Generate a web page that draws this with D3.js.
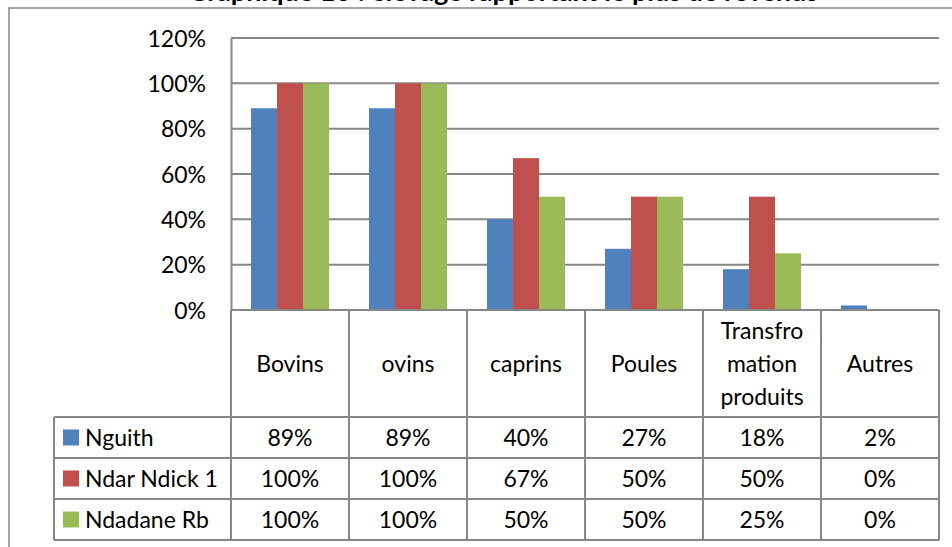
<!DOCTYPE html>
<meta charset="utf-8">
<script src="https://d3js.org/d3.v7.min.js"></script>
<style>
  body { margin: 0; background: #fff; }
  text { font-family: Lato, "Open Sans", sans-serif; fill: #000; }
</style>
<body>
<div id="my_dataviz"></div>
</body>
<script>

  // data
  var categories = ["Bovins", "ovins", "caprins", "Poules", "Transformation produits", "Autres"];
  var categoryLines = [["Bovins"], ["ovins"], ["caprins"], ["Poules"], ["Transfro", "mation", "produits"], ["Autres"]];
  var series = ["Nguith", "Ndar Ndick 1", "Ndadane Rb"];
  var nguith = [0.89, 0.89, 0.40, 0.27, 0.18, 0.02];
  var ndarNdick = [1.00, 1.00, 0.67, 0.50, 0.50, 0.00];
  var ndadane = [1.00, 1.00, 0.50, 0.50, 0.25, 0.00];
  var yTicks = [0, 0.2, 0.4, 0.6, 0.8, 1.0, 1.2];
  var colors = ["#4F81BD", "#C0504D", "#9BBB59"];
  var title = "Graphique 10 : élevage rapportant le plus de revenus";

  var values = [nguith, ndarNdick, ndadane];

  var width = 952, height = 547;
  var plot = {left: 231, right: 939, top: 38, bottom: 310};
  var table = {left: 54, header: 417, rowH: 41};
  var grey = "#878787";
  var fs = "23px";

  const svg = d3.select("#my_dataviz")
    .append("svg")
      .attr("width", width)
      .attr("height", height);

  // outer chart frame (runs past the window on right and bottom)
  svg.append("rect")
    .attr("x", 9).attr("y", 8)
    .attr("width", 1100).attr("height", 700)
    .style("fill", "none")
    .style("stroke", grey)
    .style("stroke-width", 1.5);

  // title, mostly cut off at the top
  svg.append("text")
    .attr("x", 503)
    .attr("y", 1)
    .attr("text-anchor", "middle")
    .style("font-weight", "bold")
    .style("font-size", "27px")
    .text(title);

  const x0 = d3.scaleBand()
    .domain(categories)
    .range([plot.left, plot.right]);

  const x1 = d3.scaleBand()
    .domain(series)
    .range([20, x0.bandwidth() - 20]);

  const y = d3.scaleLinear()
    .domain([0, 1.2])
    .range([plot.bottom, plot.top]);

  // gridlines
  svg.selectAll("gridline")
    .data(yTicks)
    .join("line")
      .attr("x1", plot.left).attr("x2", plot.right)
      .attr("y1", d => y(d)).attr("y2", d => y(d))
      .style("stroke", grey)
      .style("stroke-width", 2);

  // y axis
  const yAxis = svg.append("g")
    .attr("transform", `translate(${plot.left},0)`)
    .call(d3.axisLeft(y).tickValues(yTicks).tickSize(0).tickPadding(25).tickFormat(d3.format(".0%")));
  yAxis.select(".domain").style("stroke", grey).style("stroke-width", 2);
  yAxis.selectAll("text")
    .style("font-family", "Lato, sans-serif")
    .style("font-size", fs)
    .attr("dy", "0.36em");

  // bars
  svg.selectAll("barGroup")
    .data(series)
    .join("g")
      .style("fill", (d, i) => colors[i])
    .selectAll("rect")
    .data((s, i) => values[i].map((v, j) => ({s: s, cat: categories[j], v: v})))
    .join("rect")
      .attr("x", d => x0(d.cat) + x1(d.s))
      .attr("width", x1.bandwidth())
      .attr("y", d => y(d.v))
      .attr("height", d => y(0) - y(d.v));

  // data table
  var rowTop = function(i) { return table.header + i * table.rowH; };
  var tableBottom = rowTop(series.length);

  // horizontal lines
  svg.append("line")
    .attr("x1", plot.left).attr("x2", plot.right)
    .attr("y1", plot.bottom).attr("y2", plot.bottom)
    .style("stroke", grey).style("stroke-width", 2);
  svg.selectAll("rowline")
    .data(d3.range(series.length + 1))
    .join("line")
      .attr("x1", table.left).attr("x2", plot.right)
      .attr("y1", d => rowTop(d)).attr("y2", d => rowTop(d))
      .style("stroke", grey).style("stroke-width", 2);

  // vertical lines
  svg.selectAll("colline")
    .data(categories.map(c => x0(c)).concat([plot.right]))
    .join("line")
      .attr("x1", d => d).attr("x2", d => d)
      .attr("y1", plot.bottom).attr("y2", tableBottom)
      .style("stroke", grey).style("stroke-width", 2);
  svg.append("line")
    .attr("x1", table.left).attr("x2", table.left)
    .attr("y1", table.header).attr("y2", tableBottom)
    .style("stroke", grey).style("stroke-width", 2);

  // category headers
  svg.selectAll("header")
    .data(categories)
    .join("text")
      .attr("text-anchor", "middle")
      .style("font-size", fs)
      .attr("transform", d => `translate(${x0(d) + x0.bandwidth() / 2},${(plot.bottom + table.header) / 2})`)
      .each(function(d, i) {
        var lines = categoryLines[i];
        d3.select(this).selectAll("tspan")
          .data(lines)
          .join("tspan")
            .attr("x", 0)
            .attr("y", (l, k) => (k - (lines.length - 1) / 2) * 33)
            .attr("dy", "0.36em")
            .text(l => l);
      });

  // legend column
  series.forEach(function(s, i) {
    var cy = rowTop(i) + table.rowH / 2;
    svg.append("rect")
      .attr("x", 63).attr("y", cy - 8)
      .attr("width", 16).attr("height", 16)
      .style("fill", colors[i]);
    svg.append("text")
      .attr("x", 85).attr("y", cy)
      .attr("dy", "0.36em")
      .style("font-size", fs)
      .text(s);

    svg.selectAll("cell" + i)
      .data(values[i])
      .join("text")
        .attr("x", (d, j) => x0(categories[j]) + x0.bandwidth() / 2)
        .attr("y", cy)
        .attr("dy", "0.36em")
        .attr("text-anchor", "middle")
        .style("font-size", fs)
        .text(d => d3.format(".0%")(d));
  });

</script>
